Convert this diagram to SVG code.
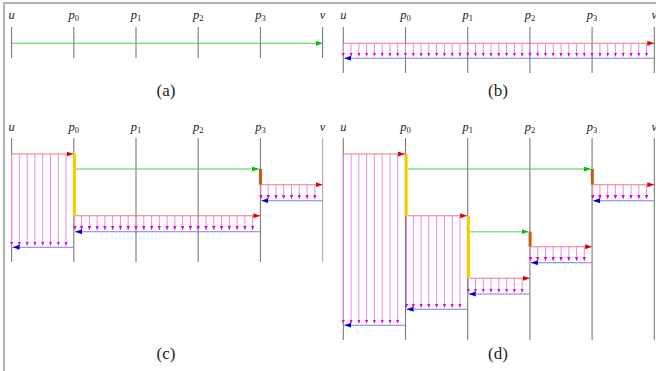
<svg xmlns="http://www.w3.org/2000/svg" width="656" height="371" viewBox="0 0 656 371">
<defs>
<style>
.bg{fill:#ffffff}
.frame{stroke:#999;stroke-width:1.5;fill:none}
.vl{stroke:#7a7a7a;stroke-width:1.1}
.vl2{stroke:#aaaaaa;stroke-width:1.1}
.lbl{font-style:italic;font-size:12.5px;fill:#222;text-anchor:middle}
.sub{font-size:8.5px;font-style:normal}
.cap{font-size:17px;fill:#222;text-anchor:middle}
.red{stroke:#f07878;stroke-width:1.1;marker-end:url(#mr)}
.blue{stroke:#7b7bf2;stroke-width:1.1;marker-end:url(#mb)}
.green{stroke:#44d444;stroke-width:1.1;marker-end:url(#mg)}
.green2{stroke:#88e888;stroke-width:1.6;marker-end:url(#mg)}
.mag line{stroke:#ee88ee;stroke-width:1;marker-end:url(#mm)}
.yel{fill:#f7cc00}
.brn{fill:#c0600f}
</style>
<marker id="mr" markerUnits="userSpaceOnUse" markerWidth="8" markerHeight="6" refX="7" refY="2.5" orient="auto"><path d="M0,0 L7,2.5 L0,5 z" fill="#e00000"/></marker>
<marker id="mb" markerUnits="userSpaceOnUse" markerWidth="8" markerHeight="6" refX="7" refY="2.5" orient="auto"><path d="M0,0 L7,2.5 L0,5 z" fill="#0000d8"/></marker>
<marker id="mg" markerUnits="userSpaceOnUse" markerWidth="8" markerHeight="6" refX="7" refY="2.5" orient="auto"><path d="M0,0 L7,2.5 L0,5 z" fill="#00c000"/></marker>
<marker id="mm" markerUnits="userSpaceOnUse" markerWidth="5" markerHeight="4" refX="4" refY="1.75" orient="auto"><path d="M0,0 L4,1.75 L0,3.5 z" fill="#e000e0"/></marker>
</defs>
<rect class="bg" x="0" y="0" width="656" height="371"/>
<path class="frame" d="M4,371 V3 H656"/>

<g id="panel-a" font-family="Liberation Serif, DejaVu Serif, serif">
<line class="vl" x1="11.6" y1="27" x2="11.6" y2="58"/>
<line class="vl" x1="73.8" y1="27" x2="73.8" y2="58"/>
<line class="vl" x1="136" y1="27" x2="136" y2="58"/>
<line class="vl" x1="198.2" y1="27" x2="198.2" y2="58"/>
<line class="vl" x1="260.4" y1="27" x2="260.4" y2="58"/>
<line class="vl" x1="322.6" y1="27" x2="322.6" y2="58"/>
<text class="lbl" x="11.6" y="18.5">u</text>
<text class="lbl" x="73.8" y="18.5">p<tspan class="sub" dy="2.5">0</tspan></text>
<text class="lbl" x="136" y="18.5">p<tspan class="sub" dy="2.5">1</tspan></text>
<text class="lbl" x="198.2" y="18.5">p<tspan class="sub" dy="2.5">2</tspan></text>
<text class="lbl" x="260.4" y="18.5">p<tspan class="sub" dy="2.5">3</tspan></text>
<text class="lbl" x="322.6" y="18.5">v</text>
<text class="cap" x="166" y="96">(a)</text>
</g>

<g id="panel-b" font-family="Liberation Serif, DejaVu Serif, serif">
<line class="vl" x1="343.3" y1="27" x2="343.3" y2="73"/>
<line class="vl" x1="405.5" y1="27" x2="405.5" y2="73"/>
<line class="vl" x1="467.7" y1="27" x2="467.7" y2="73"/>
<line class="vl" x1="529.9" y1="27" x2="529.9" y2="73"/>
<line class="vl" x1="592.1" y1="27" x2="592.1" y2="73"/>
<line class="vl" x1="654.3" y1="27" x2="654.3" y2="73"/>
<text class="lbl" x="343.3" y="18.5">u</text>
<text class="lbl" x="405.5" y="18.5">p<tspan class="sub" dy="2.5">0</tspan></text>
<text class="lbl" x="467.7" y="18.5">p<tspan class="sub" dy="2.5">1</tspan></text>
<text class="lbl" x="529.9" y="18.5">p<tspan class="sub" dy="2.5">2</tspan></text>
<text class="lbl" x="592.1" y="18.5">p<tspan class="sub" dy="2.5">3</tspan></text>
<text class="lbl" x="654.3" y="18.5">v</text>
<text class="cap" x="498" y="96">(b)</text>
</g>

<g id="panel-c" font-family="Liberation Serif, DejaVu Serif, serif">
<line class="vl" x1="11.6" y1="138" x2="11.6" y2="262"/>
<line class="vl" x1="73.8" y1="138" x2="73.8" y2="262"/>
<line class="vl" x1="136" y1="138" x2="136" y2="262"/>
<line class="vl" x1="198.2" y1="138" x2="198.2" y2="262"/>
<line class="vl" x1="260.4" y1="138" x2="260.4" y2="262"/>
<line class="vl2" x1="322.6" y1="138" x2="322.6" y2="262"/>
<text class="lbl" x="11.6" y="130.7">u</text>
<text class="lbl" x="73.8" y="130.7">p<tspan class="sub" dy="2.5">0</tspan></text>
<text class="lbl" x="136" y="130.7">p<tspan class="sub" dy="2.5">1</tspan></text>
<text class="lbl" x="198.2" y="130.7">p<tspan class="sub" dy="2.5">2</tspan></text>
<text class="lbl" x="260.4" y="130.7">p<tspan class="sub" dy="2.5">3</tspan></text>
<text class="lbl" x="322.6" y="130.7">v</text>
<text class="cap" x="166" y="359">(c)</text>
</g>

<g id="panel-d" font-family="Liberation Serif, DejaVu Serif, serif">
<line class="vl" x1="343.3" y1="138" x2="343.3" y2="340"/>
<line class="vl" x1="405.5" y1="138" x2="405.5" y2="340"/>
<line class="vl" x1="467.7" y1="138" x2="467.7" y2="340"/>
<line class="vl" x1="529.9" y1="138" x2="529.9" y2="340"/>
<line class="vl" x1="592.1" y1="138" x2="592.1" y2="340"/>
<line class="vl" x1="654.3" y1="138" x2="654.3" y2="340"/>
<text class="lbl" x="343.3" y="130.7">u</text>
<text class="lbl" x="405.5" y="130.7">p<tspan class="sub" dy="2.5">0</tspan></text>
<text class="lbl" x="467.7" y="130.7">p<tspan class="sub" dy="2.5">1</tspan></text>
<text class="lbl" x="529.9" y="130.7">p<tspan class="sub" dy="2.5">2</tspan></text>
<text class="lbl" x="592.1" y="130.7">p<tspan class="sub" dy="2.5">3</tspan></text>
<text class="lbl" x="654.3" y="130.7">v</text>
<text class="cap" x="498" y="359">(d)</text>
</g>

<g id="connectors">
<!-- (a) -->
<line class="green" x1="11.6" y1="43.3" x2="322.6" y2="43.3"/>

<!-- (b) -->
<g class="mag">
<line x1="343.3" y1="43.3" x2="343.3" y2="56.5"/><line x1="351.1" y1="43.3" x2="351.1" y2="56.5"/><line x1="358.9" y1="43.3" x2="358.9" y2="56.5"/><line x1="366.6" y1="43.3" x2="366.6" y2="56.5"/><line x1="374.4" y1="43.3" x2="374.4" y2="56.5"/><line x1="382.2" y1="43.3" x2="382.2" y2="56.5"/><line x1="390" y1="43.3" x2="390" y2="56.5"/><line x1="397.7" y1="43.3" x2="397.7" y2="56.5"/>
<line x1="405.5" y1="43.3" x2="405.5" y2="56.5"/><line x1="413.3" y1="43.3" x2="413.3" y2="56.5"/><line x1="421.1" y1="43.3" x2="421.1" y2="56.5"/><line x1="428.8" y1="43.3" x2="428.8" y2="56.5"/><line x1="436.6" y1="43.3" x2="436.6" y2="56.5"/><line x1="444.4" y1="43.3" x2="444.4" y2="56.5"/><line x1="452.2" y1="43.3" x2="452.2" y2="56.5"/><line x1="459.9" y1="43.3" x2="459.9" y2="56.5"/>
<line x1="467.7" y1="43.3" x2="467.7" y2="56.5"/><line x1="475.5" y1="43.3" x2="475.5" y2="56.5"/><line x1="483.3" y1="43.3" x2="483.3" y2="56.5"/><line x1="491" y1="43.3" x2="491" y2="56.5"/><line x1="498.8" y1="43.3" x2="498.8" y2="56.5"/><line x1="506.6" y1="43.3" x2="506.6" y2="56.5"/><line x1="514.4" y1="43.3" x2="514.4" y2="56.5"/><line x1="522.1" y1="43.3" x2="522.1" y2="56.5"/>
<line x1="529.9" y1="43.3" x2="529.9" y2="56.5"/><line x1="537.7" y1="43.3" x2="537.7" y2="56.5"/><line x1="545.5" y1="43.3" x2="545.5" y2="56.5"/><line x1="553.2" y1="43.3" x2="553.2" y2="56.5"/><line x1="561" y1="43.3" x2="561" y2="56.5"/><line x1="568.8" y1="43.3" x2="568.8" y2="56.5"/><line x1="576.6" y1="43.3" x2="576.6" y2="56.5"/><line x1="584.3" y1="43.3" x2="584.3" y2="56.5"/>
<line x1="592.1" y1="43.3" x2="592.1" y2="56.5"/><line x1="599.9" y1="43.3" x2="599.9" y2="56.5"/><line x1="607.7" y1="43.3" x2="607.7" y2="56.5"/><line x1="615.4" y1="43.3" x2="615.4" y2="56.5"/><line x1="623.2" y1="43.3" x2="623.2" y2="56.5"/><line x1="631" y1="43.3" x2="631" y2="56.5"/><line x1="638.8" y1="43.3" x2="638.8" y2="56.5"/><line x1="646.5" y1="43.3" x2="646.5" y2="56.5"/>
</g>
<line class="red" x1="343.3" y1="43.3" x2="654.3" y2="43.3"/>
<line class="blue" x1="654.3" y1="58.2" x2="344.3" y2="58.2"/>

<!-- (c) -->
<g class="mag">
<line x1="11.6" y1="154" x2="11.6" y2="245.5"/><line x1="19.4" y1="154" x2="19.4" y2="245.5"/><line x1="27.2" y1="154" x2="27.2" y2="245.5"/><line x1="34.9" y1="154" x2="34.9" y2="245.5"/><line x1="42.7" y1="154" x2="42.7" y2="245.5"/><line x1="50.5" y1="154" x2="50.5" y2="245.5"/><line x1="58.3" y1="154" x2="58.3" y2="245.5"/><line x1="66" y1="154" x2="66" y2="245.5"/>
<line x1="74.8" y1="215.7" x2="74.8" y2="230"/><line x1="81.6" y1="215.7" x2="81.6" y2="230"/><line x1="89.4" y1="215.7" x2="89.4" y2="230"/><line x1="97.1" y1="215.7" x2="97.1" y2="230"/><line x1="104.9" y1="215.7" x2="104.9" y2="230"/><line x1="112.7" y1="215.7" x2="112.7" y2="230"/><line x1="120.5" y1="215.7" x2="120.5" y2="230"/><line x1="128.2" y1="215.7" x2="128.2" y2="230"/>
<line x1="136" y1="215.7" x2="136" y2="230"/><line x1="143.8" y1="215.7" x2="143.8" y2="230"/><line x1="151.6" y1="215.7" x2="151.6" y2="230"/><line x1="159.3" y1="215.7" x2="159.3" y2="230"/><line x1="167.1" y1="215.7" x2="167.1" y2="230"/><line x1="174.9" y1="215.7" x2="174.9" y2="230"/><line x1="182.7" y1="215.7" x2="182.7" y2="230"/><line x1="190.4" y1="215.7" x2="190.4" y2="230"/>
<line x1="198.2" y1="215.7" x2="198.2" y2="230"/><line x1="206" y1="215.7" x2="206" y2="230"/><line x1="213.8" y1="215.7" x2="213.8" y2="230"/><line x1="221.5" y1="215.7" x2="221.5" y2="230"/><line x1="229.3" y1="215.7" x2="229.3" y2="230"/><line x1="237.1" y1="215.7" x2="237.1" y2="230"/><line x1="244.9" y1="215.7" x2="244.9" y2="230"/><line x1="252.6" y1="215.7" x2="252.6" y2="230"/>
<line x1="261" y1="184.7" x2="261" y2="199"/><line x1="268.2" y1="184.7" x2="268.2" y2="199"/><line x1="276" y1="184.7" x2="276" y2="199"/><line x1="283.7" y1="184.7" x2="283.7" y2="199"/><line x1="291.5" y1="184.7" x2="291.5" y2="199"/><line x1="299.3" y1="184.7" x2="299.3" y2="199"/><line x1="307.1" y1="184.7" x2="307.1" y2="199"/><line x1="314.8" y1="184.7" x2="314.8" y2="199"/>
</g>
<line class="red" x1="11.6" y1="154" x2="73.5" y2="154"/>
<line class="blue" x1="73.8" y1="247.3" x2="12.6" y2="247.3"/>
<rect class="yel" x="72.8" y="154" width="3.2" height="61.7"/>
<line class="green" x1="76" y1="169" x2="259" y2="169"/>
<rect class="brn" x="259" y="169" width="3" height="15.7"/>
<line class="red" x1="76" y1="215.7" x2="260.4" y2="215.7"/>
<line class="blue" x1="260.4" y1="231.7" x2="75" y2="231.7"/>
<line class="red" x1="262" y1="184.7" x2="322.6" y2="184.7"/>
<line class="blue" x1="322.6" y1="200.7" x2="261.4" y2="200.7"/>

<!-- (d) -->
<g class="mag">
<line x1="343.3" y1="154" x2="343.3" y2="323.5"/><line x1="351.1" y1="154" x2="351.1" y2="323.5"/><line x1="358.9" y1="154" x2="358.9" y2="323.5"/><line x1="366.6" y1="154" x2="366.6" y2="323.5"/><line x1="374.4" y1="154" x2="374.4" y2="323.5"/><line x1="382.2" y1="154" x2="382.2" y2="323.5"/><line x1="390" y1="154" x2="390" y2="323.5"/><line x1="397.7" y1="154" x2="397.7" y2="323.5"/>
<line x1="406.5" y1="215.7" x2="406.5" y2="307.7"/><line x1="413.3" y1="215.7" x2="413.3" y2="307.7"/><line x1="421.1" y1="215.7" x2="421.1" y2="307.7"/><line x1="428.8" y1="215.7" x2="428.8" y2="307.7"/><line x1="436.6" y1="215.7" x2="436.6" y2="307.7"/><line x1="444.4" y1="215.7" x2="444.4" y2="307.7"/><line x1="452.2" y1="215.7" x2="452.2" y2="307.7"/><line x1="459.9" y1="215.7" x2="459.9" y2="307.7"/>
<line x1="468.5" y1="278.3" x2="468.5" y2="292.5"/><line x1="475.5" y1="278.3" x2="475.5" y2="292.5"/><line x1="483.3" y1="278.3" x2="483.3" y2="292.5"/><line x1="491" y1="278.3" x2="491" y2="292.5"/><line x1="498.8" y1="278.3" x2="498.8" y2="292.5"/><line x1="506.6" y1="278.3" x2="506.6" y2="292.5"/><line x1="514.4" y1="278.3" x2="514.4" y2="292.5"/><line x1="522.1" y1="278.3" x2="522.1" y2="292.5"/>
<line x1="530.6" y1="246.7" x2="530.6" y2="261"/><line x1="537.7" y1="246.7" x2="537.7" y2="261"/><line x1="545.5" y1="246.7" x2="545.5" y2="261"/><line x1="553.2" y1="246.7" x2="553.2" y2="261"/><line x1="561" y1="246.7" x2="561" y2="261"/><line x1="568.8" y1="246.7" x2="568.8" y2="261"/><line x1="576.6" y1="246.7" x2="576.6" y2="261"/><line x1="584.3" y1="246.7" x2="584.3" y2="261"/>
<line x1="592.8" y1="184.7" x2="592.8" y2="199"/><line x1="599.9" y1="184.7" x2="599.9" y2="199"/><line x1="607.7" y1="184.7" x2="607.7" y2="199"/><line x1="615.4" y1="184.7" x2="615.4" y2="199"/><line x1="623.2" y1="184.7" x2="623.2" y2="199"/><line x1="631" y1="184.7" x2="631" y2="199"/><line x1="638.8" y1="184.7" x2="638.8" y2="199"/><line x1="646.5" y1="184.7" x2="646.5" y2="199"/>
</g>
<line class="red" x1="343.3" y1="154" x2="405" y2="154"/>
<line class="blue" x1="405.5" y1="325.2" x2="344.3" y2="325.2"/>
<rect class="yel" x="404.5" y="154" width="3.2" height="61.7"/>
<line class="green" x1="407.7" y1="169" x2="590.8" y2="169"/>
<rect class="brn" x="590.8" y="169" width="3" height="15.7"/>
<line class="red" x1="593.8" y1="184.7" x2="654.3" y2="184.7"/>
<line class="blue" x1="654.3" y1="200.7" x2="593" y2="200.7"/>
<line class="red" x1="407.7" y1="215.7" x2="467.2" y2="215.7"/>
<line class="blue" x1="467.7" y1="309.3" x2="406.5" y2="309.3"/>
<rect class="yel" x="466.7" y="215.7" width="3.2" height="62.6"/>
<line class="green2" x1="469.9" y1="231.7" x2="528.6" y2="231.7"/>
<rect class="brn" x="528.6" y="231.7" width="3" height="15"/>
<line class="red" x1="531.6" y1="246.7" x2="592.1" y2="246.7"/>
<line class="blue" x1="592.1" y1="262.7" x2="530.9" y2="262.7"/>
<line class="red" x1="469.9" y1="278.3" x2="529.9" y2="278.3"/>
<line class="blue" x1="529.9" y1="294" x2="468.7" y2="294"/>
</g>
</svg>
